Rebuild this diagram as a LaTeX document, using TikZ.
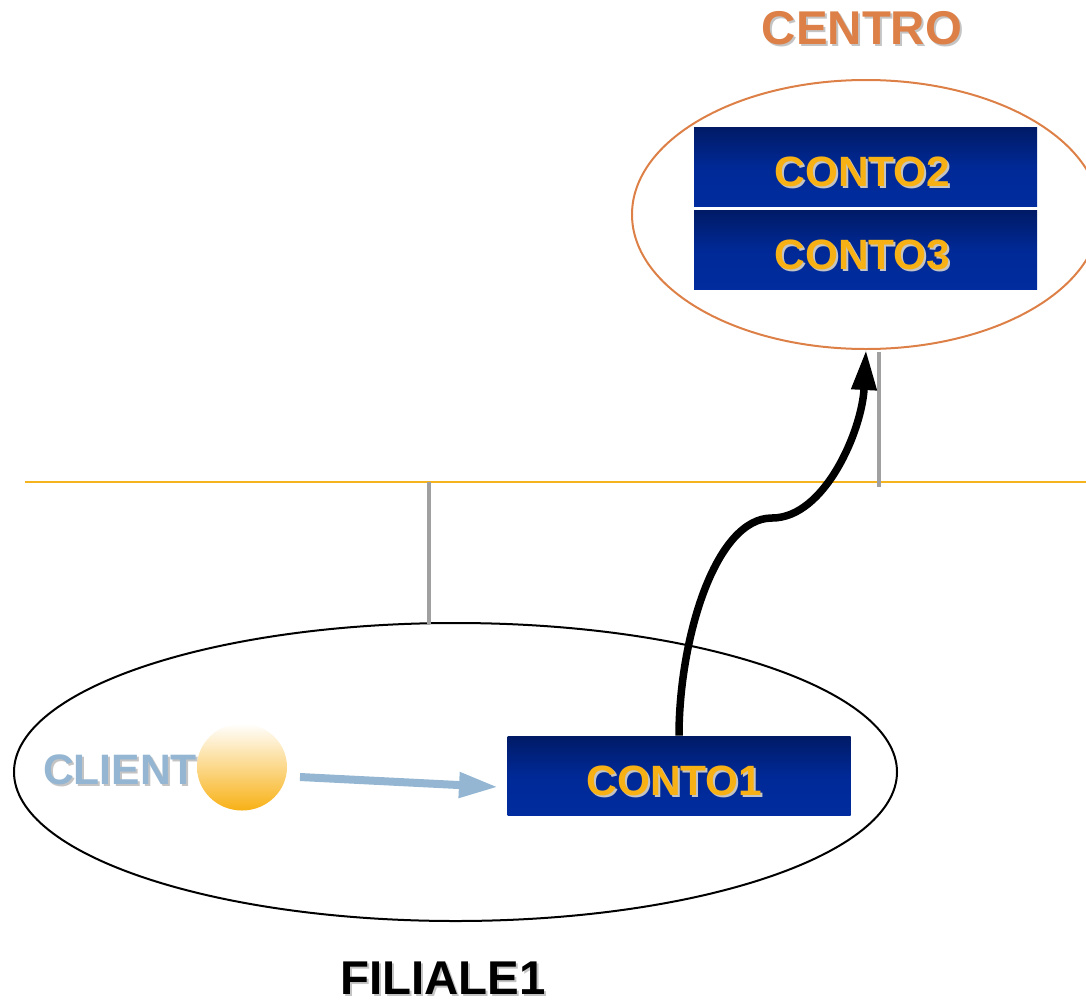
\documentclass[tikz,border=0pt]{standalone}
\usepackage{fontspec}
\setmainfont{Liberation Sans}
\usepackage{tikz}
\usetikzlibrary{arrows.meta,shapes.geometric}
\definecolor{centrocolor}{HTML}{DD8047}
\definecolor{clientcolor}{HTML}{94B6D2}
\definecolor{busyellow}{HTML}{F5B41E}
\definecolor{contogold}{HTML}{F8B115}
\definecolor{contotop}{HTML}{001A66}
\definecolor{contobottom}{HTML}{002C9F}
\definecolor{wiregray}{HTML}{A0A0A0}
\definecolor{shadowgray}{HTML}{C4C4C4}
\newcommand{\shadowtxt}[2]{\makebox[0pt][l]{\hspace{1pt}\raisebox{-1pt}{\textcolor{shadowgray}{#2}}}\textcolor{#1}{#2}}
\tikzset{
    contobox/.style={shape=rectangle,top color=contotop,bottom color=contobottom,middle color=contobottom!85!contotop,minimum width=171.5pt,minimum height=39.5pt,inner sep=0pt,font=\fontsize{21.2}{21}\selectfont\bfseries,text height=22.5pt,text depth=3pt},
    titletxt/.style={inner sep=0pt,font=\fontsize{23.7}{24}\selectfont\bfseries},
    wire/.style={draw=wiregray,line width=1.75pt},
    bus/.style={draw=busyellow,line width=1.2pt}
}
\begin{document}
\begin{tikzpicture}[x=0.5pt,y=-0.5pt]
            \useasboundingbox (0,0) rectangle (1086,1001);
            \node[shape=ellipse,draw=centrocolor,line width=1pt,minimum width=234pt,minimum height=134.5pt,inner sep=0pt] (centro) at (866,214.5) {};
            \node[shape=ellipse,draw=black,line width=1pt,minimum width=441.5pt,minimum height=149pt,inner sep=0pt] (filiale) at (455.5,772) {};
            \node[contobox] (conto2) at (865.5,167) {\shadowtxt{contogold}{CONTO2}\hspace{3pt}\null};
            \node[contobox] (conto3) at (865.5,250) {\shadowtxt{contogold}{CONTO3}\hspace{3pt}\null};
            \node[contobox] (conto1) at (679,775.5) {\shadowtxt{contogold}{CONTO1}\hspace{4.5pt}\null};
            \node[titletxt] (centrolabel) at (862,29) {\shadowtxt{centrocolor}{CENTRO}};
            \node[titletxt] (filialelabel) at (443,979) {\shadowtxt{black}{FILIALE1}};
            \node[inner sep=0pt,font=\fontsize{21.3}{21}\selectfont\bfseries] (client) at (120,771) {\shadowtxt{clientcolor}{CLIENT}};
            \node[shape=ellipse,top color=white,bottom color=contogold,minimum width=45pt,minimum height=43.5pt,inner sep=0pt] (ball) at (242,767) {};
            \coordinate (busleft) at (25,482);
            \coordinate (busright) at (1086,482);
            \coordinate (tapa) at (429,482);
            \coordinate (tapb) at (429,624);
            \coordinate (tapc) at (879,352);
            \coordinate (tapd) at (879,487);
            \coordinate (ballout) at (300,777);
            \coordinate (contoin) at (498,787);
            \coordinate (bend) at (772,518);
            \path [bus] (busleft) edge (busright);
            \path [wire] (tapa) edge (tapb);
            \path [wire] (tapc) edge (tapd);
            \draw [-{Triangle[length=19.5pt,width=12pt]},draw=clientcolor,fill=clientcolor,line width=4pt] (ballout) -- (contoin);
            \draw [-{Triangle[length=20pt,width=12pt]},line width=3.75pt] (conto1.north) .. controls (679,640) and (715,518) .. (bend) .. controls (825,518) and (862,430) .. (centro.south);
        \end{tikzpicture}
\end{document}
